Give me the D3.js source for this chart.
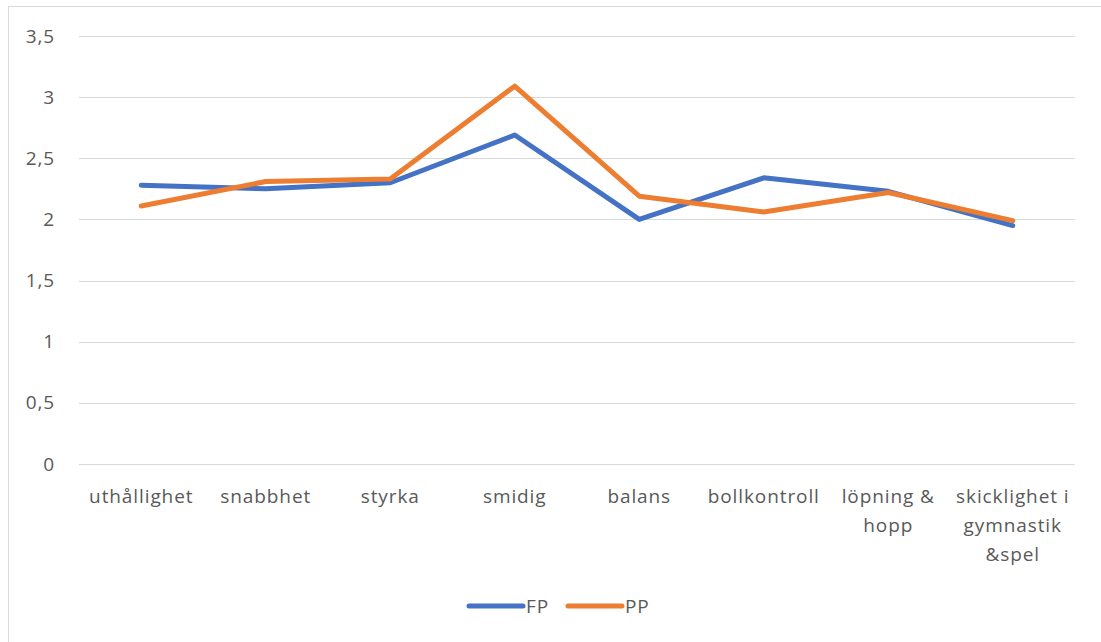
<!DOCTYPE html>
<html>
<head>
<meta charset="utf-8">
<script src="https://cdn.jsdelivr.net/npm/d3@7/dist/d3.min.js"></script>
<style>
  html, body { margin: 0; padding: 0; background: #fff; }
  svg { display: block; font-family: "Open Sans", "Noto Sans", sans-serif; }
  .lbl { fill: #595959; font-size: 19px; letter-spacing: 0.9px; font-family: "Open Sans", sans-serif; }
</style>
</head>
<body>
<svg id="chart" width="1101" height="642"></svg>
<script>
const categories = ["uthållighet", "snabbhet", "styrka", "smidig", "balans", "bollkontroll", "löpning & hopp", "skicklighet i gymnastik &spel"];
const fpValues = [2.28, 2.25, 2.30, 2.69, 2.00, 2.34, 2.23, 1.95];
const ppValues = [2.11, 2.31, 2.33, 3.09, 2.19, 2.06, 2.22, 1.99];
const yTicks = [0, 0.5, 1, 1.5, 2, 2.5, 3, 3.5];
const seriesNames = ["FP", "PP"];
const seriesColors = ["#4472C4", "#ED7D31"];

const svg = d3.select("#chart");
const W = 1101, H = 642;
const plot = { left: 79, right: 1075, top: 36, bottom: 464 };

// chart frame
svg.append("rect")
  .attr("x", 8.5).attr("y", 6.5)
  .attr("width", W).attr("height", H)
  .attr("fill", "none").attr("stroke", "#d9d9d9").attr("stroke-width", 1);

const x = d3.scaleBand().domain(categories).range([plot.left, plot.right]);
const y = d3.scaleLinear().domain([0, 3.5]).range([plot.bottom, plot.top]);

// horizontal gridlines
svg.append("g").selectAll("line").data(yTicks).join("line")
  .attr("x1", plot.left).attr("x2", plot.right)
  .attr("y1", d => Math.round(y(d)) + 0.5).attr("y2", d => Math.round(y(d)) + 0.5)
  .attr("stroke", "#d9d9d9").attr("stroke-width", 1);

// y axis labels
const fmt = d => String(d).replace(".", ",");
const yAxis = d3.axisLeft(y).tickValues(yTicks).tickFormat(fmt).tickSize(0).tickPadding(0);
const yg = svg.append("g").attr("transform", `translate(${plot.left - 24},0)`).call(yAxis);
yg.select(".domain").remove();
yg.attr("font-size", null).attr("font-family", null);
yg.selectAll("text").attr("class", "lbl").attr("fill", null);

// x axis labels, wrapped to the band width
const xAxis = d3.axisBottom(x).tickSize(0).tickPadding(0);
const xg = svg.append("g").attr("transform", `translate(0,${plot.bottom + 25})`).call(xAxis);
xg.select(".domain").remove();
xg.attr("font-size", null).attr("font-family", null);
xg.selectAll("text").attr("class", "lbl").attr("fill", null)
  .each(function(d) { wrap(d3.select(this), d, x.bandwidth() - 4); });

function wrap(text, str, width) {
  const words = str.split(/\s+/);
  text.text(null);
  let line = [];
  let tspan = text.append("tspan").attr("x", 0).attr("dy", "0.71em");
  for (const w of words) {
    line.push(w);
    tspan.text(line.join(" "));
    if (tspan.node().getComputedTextLength() > width && line.length > 1) {
      line.pop();
      tspan.text(line.join(" "));
      line = [w];
      tspan = text.append("tspan").attr("x", 0).attr("dy", "1.55em").text(w);
    }
  }
}

// series lines
const lineGen = d3.line()
  .x((d, i) => x(categories[i]) + x.bandwidth() / 2)
  .y(d => y(d));

[fpValues, ppValues].forEach((vals, k) => {
  svg.append("path").datum(vals)
    .attr("d", lineGen)
    .attr("fill", "none")
    .attr("stroke", seriesColors[k])
    .attr("stroke-width", 5)
    .attr("stroke-linejoin", "round")
    .attr("stroke-linecap", "round");
});

// legend
const legend = svg.append("g").attr("transform", "translate(469,606)");
seriesNames.forEach((name, k) => {
  const g = legend.append("g").attr("transform", `translate(${k * 99},0)`);
  g.append("line").attr("x1", 0).attr("x2", 54).attr("y1", 0).attr("y2", 0)
    .attr("stroke", seriesColors[k]).attr("stroke-width", 5).attr("stroke-linecap", "round");
  g.append("text").attr("class", "lbl").attr("x", 57).attr("y", 0).attr("dy", "0.35em").text(name);
});
</script>
</body>
</html>
